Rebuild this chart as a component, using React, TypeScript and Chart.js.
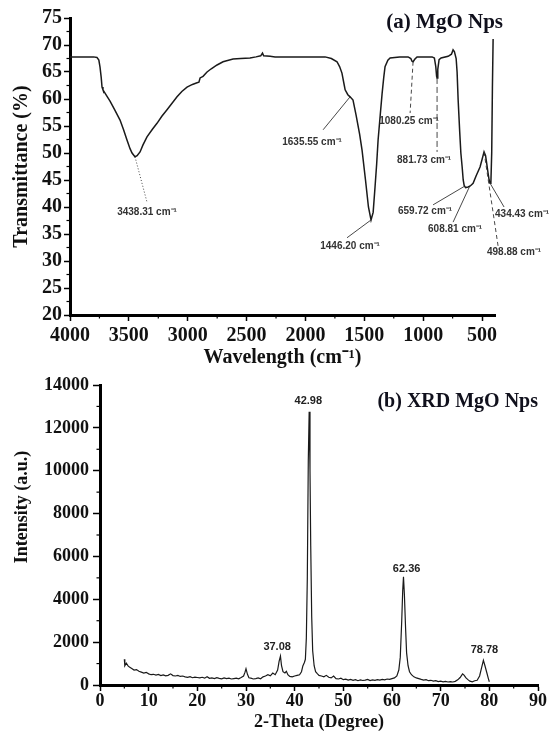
import React, { useEffect, useRef } from "react";
import { Chart, registerables } from "chart.js";

Chart.register(...registerables);

const SERIF = "'Liberation Serif', 'Times New Roman', serif";
const SANS = "'Liberation Sans', Arial, sans-serif";

// ---------------- (a) FTIR data ----------------
const ftirWavenumber = [
  4000, 3900, 3800, 3771, 3755, 3745, 3735, 3728, 3720, 3700, 3680, 3660, 3620, 3575, 3545, 3516, 3490, 3473,
  3448, 3430, 3405, 3380, 3346, 3300, 3261, 3220, 3176, 3130, 3091, 3050, 3006, 2960, 2921, 2905, 2895, 2870,
  2836, 2800, 2751, 2700, 2615, 2550, 2471, 2420, 2380, 2365, 2355, 2300, 2258, 2100, 1900, 1833, 1780, 1732,
  1710, 1690, 1670, 1663, 1640, 1621, 1596, 1570, 1540, 1519, 1490, 1465, 1443, 1425, 1409, 1395, 1383, 1365,
  1349, 1335, 1324, 1300, 1281, 1200, 1128, 1105, 1095, 1086, 1070, 1052, 960, 924, 905, 893, 886, 882, 876,
  865, 848, 788, 760, 746, 735, 720, 712, 703, 690, 680, 669, 660, 652, 640, 618, 600, 576, 550, 517, 500, 483,
  470, 460, 449, 440, 432, 425, 418, 412, 406,
];
const ftirTransmittance = [
  67.8, 67.8, 67.8, 67.7, 67.2, 65.9, 64.0, 62.2, 61.7, 61.0, 60.3, 59.6, 58.0, 56.1, 54.3, 52.4, 50.8, 50.0,
  49.3, 49.5, 50.2, 51.5, 53.0, 54.4, 55.5, 56.8, 58.0, 59.3, 60.4, 61.4, 62.2, 62.7, 63.0, 63.1, 63.9, 64.2,
  65.0, 65.6, 66.3, 66.9, 67.4, 67.5, 67.6, 67.8, 68.0, 68.5, 68.0, 67.9, 67.8, 67.8, 67.8, 67.8, 67.5, 66.9,
  66.0, 64.8, 62.5, 61.7, 60.8, 60.4, 59.8, 57.0, 53.5, 50.5, 45.0, 40.0, 37.6, 39.0, 43.7, 48.0, 52.4, 57.0,
  61.0, 64.0, 66.0, 67.2, 67.6, 67.8, 67.8, 67.5, 67.0, 66.9, 67.4, 67.8, 67.8, 67.8, 67.6, 66.0, 64.2, 63.9, 65.5,
  67.3, 67.6, 67.9, 68.3, 69.1, 68.8, 67.5, 65.0, 59.8, 54.0, 50.0, 47.4, 45.0, 44.0, 43.6, 43.7, 43.9, 44.4, 45.8, 47.4, 48.8, 50.2,
  49.5, 48.0, 46.3, 45.0, 44.4, 44.5, 50.0, 62.0, 71.1,
];
const ftirXTicks = [4000, 3500, 3000, 2500, 2000, 1500, 1000, 500];
const ftirXMinor = [3750, 3250, 2750, 2250, 1750, 1250, 750];
const ftirYTicks = [20, 25, 30, 35, 40, 45, 50, 55, 60, 65, 70, 75];
const ftirYMinor = [22.5, 27.5, 32.5, 37.5, 42.5, 47.5, 52.5, 57.5, 62.5, 67.5, 72.5];

// peak annotations (data units)
const ftirPeakLabels = [
  "3438.31 cm⁻¹", "1635.55 cm⁻¹", "1446.20 cm⁻¹", "1080.25 cm⁻¹", "881.73 cm⁻¹",
  "659.72 cm⁻¹", "608.81 cm⁻¹", "498.88 cm⁻¹", "434.43 cm⁻¹",
];
const ftirPeakPoint = [[3448, 49.3], [1621, 60.4], [1443, 37.6], [1086, 66.9], [882, 63.9], [652, 43.8], [608, 43.7], [483, 50.2], [432, 44.4]];
const ftirLeaderEnd = [[3346, 40.9], [1850, 54.3], [1647, 34.3], [1111, 57.4], [882, 50.2], [916, 40.4], [746, 37.2], [364, 32.8], [313, 40.0]];
const ftirLabelCenter = [[3346, 39.1], [1944, 51.9], [1621, 32.8], [1120, 55.9], [992, 48.7], [984, 39.3], [729, 35.9], [228, 31.7], [160, 38.7]];
const ftirLeaderDash = [[1, 2], [], [], [4, 3], [6, 3], [], [], [4, 3], []];

// ---------------- (b) XRD data ----------------
const xrdTheta = [
  5.0, 5.1, 5.4, 5.8, 6.2, 6.6, 7.0, 7.5, 8.0, 8.5, 9.0, 9.5, 10.0, 10.5, 11.0, 11.5, 12.0, 12.5, 13.0, 13.5,
  14.0, 14.5, 15.0, 15.5, 16.0, 16.5, 17.0, 17.5, 18.0, 18.5, 19.0, 19.5, 20.0, 20.5, 21.0, 21.5, 22.0, 22.5,
  23.0, 23.5, 24.0, 24.5, 25.0, 25.5, 26.0, 26.5, 27.0, 27.5, 28.0, 28.5, 29.0, 29.5, 29.8, 30.0, 30.3, 30.6,
  31.0, 31.5, 32.0, 32.5, 33.0, 33.5, 34.0, 34.5, 35.0, 35.5, 36.0, 36.5, 36.8, 37.08, 37.3, 37.6, 38.0, 38.3,
  38.6, 39.0, 39.5, 40.0, 40.5, 41.0, 41.4, 41.7, 42.0, 42.2, 42.4, 42.6, 42.8, 42.98, 43.15, 43.3, 43.5, 43.7,
  44.0, 44.3, 44.7, 45.0, 45.5, 46.0, 46.5, 47.0, 47.5, 48.0, 48.5, 49.0, 49.5, 50.0, 50.5, 51.0, 51.5, 52.0,
  52.5, 53.0, 53.5, 54.0, 54.5, 55.0, 55.5, 56.0, 56.5, 57.0, 57.5, 58.0, 58.5, 59.0, 59.5, 60.0, 60.5, 61.0,
  61.4, 61.7, 62.0, 62.2, 62.36, 62.55, 62.8, 63.0, 63.3, 63.6, 64.0, 64.5, 65.0, 65.5, 66.0, 66.5, 67.0, 67.5,
  68.0, 68.5, 69.0, 69.5, 70.0, 70.5, 71.0, 71.5, 72.0, 72.5, 73.0, 73.5, 74.0, 74.5, 74.8, 75.2, 75.6, 76.0,
  76.5, 77.0, 77.5, 78.0, 78.4, 78.78, 79.1, 79.5, 79.8, 80.0,
];
const xrdIntensity = [
  1200, 900, 1020, 880, 820, 760, 700, 720, 640, 600, 560, 590, 520, 480, 500, 460, 490, 440, 470, 430,
  450, 520, 440, 420, 450, 400, 420, 380, 360, 390, 340, 370, 350, 330, 360, 320, 390, 310,
  330, 300, 340, 310, 290, 330, 300, 320, 280, 300, 320, 290, 350, 420, 600, 760, 500, 340,
  320, 280, 300, 330, 290, 380, 420, 480, 430, 560, 480, 700, 1100, 1350, 900, 620, 560, 640,
  480, 400, 380, 420, 450, 480, 620, 900, 1050, 1200, 2200, 5000, 10500, 12750, 10000, 6500, 3200, 1600,
  900, 620, 520, 450, 420, 380, 450, 360, 330, 420, 300, 280, 320, 250, 270, 230, 260, 220,
  250, 200, 240, 210, 230, 260, 210, 240, 220, 250, 230, 260, 240, 280, 260, 300, 330, 420,
  700, 1300, 3000, 4400, 5050, 4200, 2600, 1500, 900, 620, 480, 380, 330, 300, 260, 230, 250, 200,
  220, 180, 200, 160, 180, 150, 170, 140, 160, 140, 170, 240, 350, 520, 460, 330, 250, 180,
  150, 200, 220, 420, 800, 1150, 900, 560, 300, 150,
];
const xrdXTicks = [0, 10, 20, 30, 40, 50, 60, 70, 80, 90];
const xrdXMinor = [5, 15, 25, 35, 45, 55, 65, 75, 85];
const xrdYTicks = [0, 2000, 4000, 6000, 8000, 10000, 12000, 14000];
const xrdYMinor = [1000, 3000, 5000, 7000, 9000, 11000, 13000];
const xrdPeakLabels = ["37.08", "42.98", "62.36", "78.78"];
const xrdLabelPos = [[36.4, 1780], [42.8, 13250], [63.0, 5410], [79.0, 1630]];

// ---------------- plugins ----------------
const minorTicksPlugin = {
  id: "minorTicks",
  afterDraw(chart: any, _args: any, opts: any) {
    const { ctx, chartArea, scales } = chart;
    ctx.save();
    ctx.strokeStyle = "#000";
    ctx.lineWidth = opts.width || 1;
    for (const v of opts.x || []) {
      const px = scales.x.getPixelForValue(v);
      ctx.beginPath();
      ctx.moveTo(px, chartArea.bottom);
      ctx.lineTo(px, chartArea.bottom + opts.length);
      ctx.stroke();
    }
    for (const v of opts.y || []) {
      const py = scales.y.getPixelForValue(v);
      ctx.beginPath();
      ctx.moveTo(chartArea.left, py);
      ctx.lineTo(chartArea.left - opts.length, py);
      ctx.stroke();
    }
    ctx.restore();
  },
};

const textPlugin = {
  id: "freeText",
  afterDraw(chart: any, _args: any, opts: any) {
    const { ctx, chartArea } = chart;
    for (const it of opts.items || []) {
      ctx.save();
      ctx.font = it.font;
      ctx.fillStyle = it.color;
      ctx.textAlign = it.align || "center";
      ctx.textBaseline = "middle";
      const x = (it.fromRight ? chartArea.right : chartArea.left) + it.dx;
      const y = chartArea.top + it.dy;
      ctx.translate(x, y);
      if (it.rotate) ctx.rotate(it.rotate);
      ctx.fillText(it.text, 0, 0);
      ctx.restore();
    }
  },
};

const ftirAnnotPlugin = {
  id: "ftirAnnot",
  afterDatasetsDraw(chart: any) {
    const { ctx, scales } = chart;
    const X = (v: number) => scales.x.getPixelForValue(v);
    const Y = (v: number) => scales.y.getPixelForValue(v);
    ctx.save();
    ctx.strokeStyle = "#333";
    ctx.lineWidth = 0.9;
    ctx.fillStyle = "#333";
    ctx.font = `bold 10px ${SANS}`;
    ctx.textAlign = "center";
    ctx.textBaseline = "middle";
    ftirPeakLabels.forEach((lab, i) => {
      ctx.setLineDash(ftirLeaderDash[i]);
      ctx.beginPath();
      ctx.moveTo(X(ftirPeakPoint[i][0]), Y(ftirPeakPoint[i][1]));
      ctx.lineTo(X(ftirLeaderEnd[i][0]), Y(ftirLeaderEnd[i][1]));
      ctx.stroke();
      ctx.fillText(lab, X(ftirLabelCenter[i][0]), Y(ftirLabelCenter[i][1]));
    });
    ctx.restore();
  },
};

const xrdAnnotPlugin = {
  id: "xrdAnnot",
  afterDatasetsDraw(chart: any) {
    const { ctx, scales } = chart;
    ctx.save();
    ctx.fillStyle = "#222";
    ctx.font = `bold 11px ${SANS}`;
    ctx.textAlign = "center";
    ctx.textBaseline = "middle";
    xrdPeakLabels.forEach((lab, i) => {
      ctx.fillText(lab, scales.x.getPixelForValue(xrdLabelPos[i][0]), scales.y.getPixelForValue(xrdLabelPos[i][1]));
    });
    ctx.restore();
  },
};

function axis(opts: any) {
  const { tickValues, fit, size, tickLength, padding, title, titlePad } = opts;
  return {
    type: "linear",
    afterBuildTicks: (s: any) => {
      s.ticks = tickValues.map((v: number) => ({ value: v }));
    },
    afterFit: fit,
    grid: { drawOnChartArea: false, drawTicks: true, tickLength, tickColor: "#000", tickWidth: 1.5 },
    border: { display: true, color: "#000", width: 3 },
    ticks: {
      color: "#111",
      font: { family: SERIF, weight: "bold", size },
      padding,
      maxRotation: 0,
      autoSkip: false,
      callback: (v: any) => String(v),
    },
    title: title
      ? { display: true, text: title, color: "#111", font: { family: SERIF, weight: "bold", size }, padding: titlePad }
      : { display: false },
  };
}

export default function App() {
  const topRef = useRef<HTMLCanvasElement>(null);
  const botRef = useRef<HTMLCanvasElement>(null);

  useEffect(() => {
    const ftir = new Chart(topRef.current as HTMLCanvasElement, {
      type: "line",
      data: {
        datasets: [
          {
            data: ftirWavenumber.map((v, i) => ({ x: v, y: ftirTransmittance[i] })),
            borderColor: "#1a1a1a",
            borderWidth: 1.5,
            pointRadius: 0,
            tension: 0,
            fill: false,
          },
        ],
      },
      options: {
        animation: false,
        responsive: false,
        devicePixelRatio: 1,
        layout: { padding: { top: 18, right: 55, bottom: 0, left: 0 } },
        plugins: {
          legend: { display: false },
          tooltip: { enabled: false },
          minorTicks: { x: ftirXMinor, y: ftirYMinor, length: 3.5, width: 1.2 },
          freeText: {
            items: [
              { text: "(a) MgO Nps", font: `bold 21px ${SERIF}`, color: "#10101c", align: "right", fromRight: true, dx: 8, dy: 5 },
            ],
          },
        } as any,
        scales: {
          x: {
            ...axis({ tickValues: ftirXTicks, fit: (s: any) => { s.height = 55; }, size: 20, tickLength: 6, padding: 3, title: "Wavelength (cm⁻¹)", titlePad: { top: 0, bottom: 0 } }),
            reverse: true,
            min: 390,
            max: 4000,
          },
          y: {
            ...axis({ tickValues: ftirYTicks, fit: (s: any) => { s.width = 70; }, size: 20, tickLength: 6, padding: 2, title: "Transmittance (%)", titlePad: { top: 10, bottom: 0 } }),
            min: 20,
            max: 75,
          },
        } as any,
      },
      plugins: [minorTicksPlugin, textPlugin, ftirAnnotPlugin],
    } as any);

    const xrd = new Chart(botRef.current as HTMLCanvasElement, {
      type: "line",
      data: {
        datasets: [
          {
            data: xrdTheta.map((v, i) => ({ x: v, y: xrdIntensity[i] })),
            borderColor: "#1a1a1a",
            borderWidth: 1.2,
            pointRadius: 0,
            tension: 0,
            fill: false,
          },
        ],
      },
      options: {
        animation: false,
        responsive: false,
        devicePixelRatio: 1,
        layout: { padding: { top: 15, right: 12, bottom: 0, left: 0 } },
        plugins: {
          legend: { display: false },
          tooltip: { enabled: false },
          minorTicks: { x: xrdXMinor, y: xrdYMinor, length: 3.5, width: 1.2 },
          freeText: {
            items: [
              { text: "(b) XRD MgO Nps", font: `bold 20px ${SERIF}`, color: "#10101c", align: "right", fromRight: true, dx: 0, dy: 17 },
              { text: "Intensity (a.u.)", font: `bold 18px ${SERIF}`, color: "#111", align: "center", fromRight: false, dx: -78, dy: 122, rotate: -Math.PI / 2 },
            ],
          },
        } as any,
        scales: {
          x: {
            ...axis({ tickValues: xrdXTicks, fit: (s: any) => { s.height = 48; }, size: 18, tickLength: 6, padding: 0, title: "2-Theta (Degree)", titlePad: { top: 0, bottom: 0 } }),
            min: 0,
            max: 90,
          },
          y: {
            ...axis({ tickValues: xrdYTicks, fit: (s: any) => { s.width = 100; }, size: 18, tickLength: 7, padding: 4 }),
            min: 0,
            max: 14000,
          },
        } as any,
      },
      plugins: [minorTicksPlugin, textPlugin, xrdAnnotPlugin],
    } as any);

    return () => {
      ftir.destroy();
      xrd.destroy();
    };
  }, []);

  return (
    <div style={{ position: "absolute", left: 0, top: 0, width: 550, height: 733, background: "#fff" }}>
      <canvas ref={topRef} width={550} height={370} style={{ position: "absolute", left: 0, top: 0 }} />
      <canvas ref={botRef} width={550} height={363} style={{ position: "absolute", left: 0, top: 370 }} />
    </div>
  );
}
